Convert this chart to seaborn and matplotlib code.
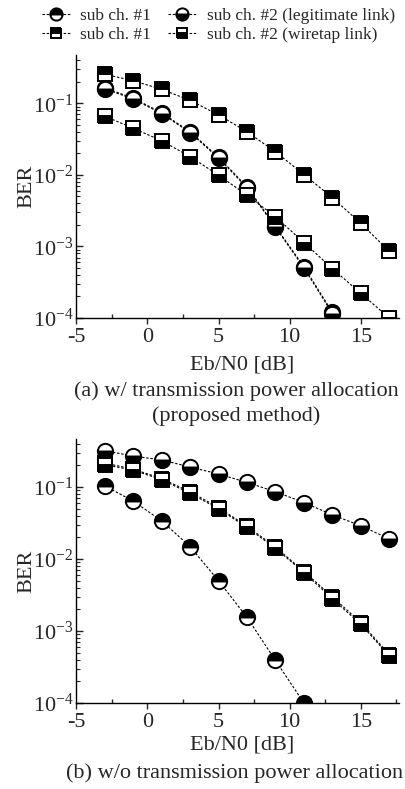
import numpy as np
import pandas as pd
import matplotlib
matplotlib.use('Agg')
import matplotlib.pyplot as plt
import seaborn as sns
from matplotlib.ticker import LogLocator, FixedLocator, NullFormatter

sns.set_style('white')
plt.rcParams['font.family'] = ['Liberation Serif', 'DejaVu Serif']
plt.rcParams['mathtext.fontset'] = 'custom'
plt.rcParams['mathtext.rm'] = 'Liberation Serif'
plt.rcParams['mathtext.it'] = 'Liberation Serif:italic'
plt.rcParams['axes.unicode_minus'] = False

# --- datos ---
snr_circ_a = [-3, -1, 1, 3, 5, 7, 9, 11, 13]
snr_sq = [-3, -1, 1, 3, 5, 7, 9, 11, 13, 15, 17]
snr_circ_b1 = [-3, -1, 1, 3, 5, 7, 9, 11]

# (a) con asignacion de potencia
a_leg_ch1 = [0.165, 0.118, 0.074, 0.040, 0.0177, 0.0068, 0.0019, 5.2e-4, 1.2e-4]
a_leg_ch2 = [0.160, 0.115, 0.072, 0.039, 0.0172, 0.0066, 0.00185, 5.0e-4, 1.15e-4]
a_wt_ch1 = [0.255, 0.207, 0.157, 0.110, 0.069, 0.040, 0.021, 0.0101, 0.0048, 0.0021, 8.5e-4]
a_wt_ch2 = [0.066, 0.045, 0.030, 0.018, 0.0099, 0.0052, 0.0026, 0.00113, 4.9e-4, 2.2e-4, 1.0e-4]

# (b) sin asignacion de potencia
b_leg_ch1 = [0.104, 0.064, 0.034, 0.0149, 0.0050, 0.00155, 3.9e-4, 1.0e-4]
b_leg_ch2 = [0.32, 0.27, 0.238, 0.19, 0.152, 0.116, 0.086, 0.061, 0.041, 0.029, 0.019]
b_wt_ch1 = [0.215, 0.178, 0.131, 0.086, 0.052, 0.0285, 0.0147, 0.0067, 0.0030, 0.0013, 4.7e-4]
b_wt_ch2 = [0.205, 0.172, 0.127, 0.082, 0.050, 0.0275, 0.0141, 0.0065, 0.0028, 0.00124, 4.5e-4]

labels = ['sub ch. #1', 'sub ch. #1', 'sub ch. #2 (legitimate link)', 'sub ch. #2 (wiretap link)']

fig = plt.figure(figsize=(4.05, 7.89), dpi=100)
ax_a = fig.add_axes([0.188, 0.597, 0.798, 0.333])
ax_b = fig.add_axes([0.188, 0.109, 0.798, 0.335])

ls = (0, (2.2, 1.6))


def dibujar(ax, x, y, marker, fill, ms, label):
    sns.lineplot(x=x, y=y, ax=ax, color='k', linestyle=ls, linewidth=0.8,
                 marker=marker, markersize=ms, fillstyle=fill,
                 markerfacecolor='k', markerfacecoloralt='w',
                 markeredgecolor='k', markeredgewidth=1.4,
                 label=label, legend=False, clip_on=True)


for ax, series in [
    (ax_a, [(snr_circ_a, a_leg_ch1, 'o', 'top', 11),
            (snr_sq, a_wt_ch1, 's', 'top', 9.5),
            (snr_circ_a, a_leg_ch2, 'o', 'bottom', 11),
            (snr_sq, a_wt_ch2, 's', 'bottom', 9.5)]),
    (ax_b, [(snr_circ_b1, b_leg_ch1, 'o', 'top', 11),
            (snr_sq, b_wt_ch1, 's', 'top', 9.5),
            (snr_sq, b_leg_ch2, 'o', 'bottom', 11),
            (snr_sq, b_wt_ch2, 's', 'bottom', 9.5)]),
]:
    for (x, y, m, f, ms), lab in zip(series, labels):
        dibujar(ax, x, y, m, f, ms, lab)
    ax.set_yscale('log')
    ax.set_ylim(1e-4, 0.47)
    ax.set_xlim(-5, 17.7)
    ax.xaxis.set_major_locator(FixedLocator([-5, 0, 5, 10, 15]))
    ax.xaxis.set_minor_locator(FixedLocator([-2.5, 2.5, 7.5, 12.5, 17.5]))
    ax.yaxis.set_major_locator(FixedLocator([1e-4, 1e-3, 1e-2, 1e-1]))
    ax.yaxis.set_minor_locator(LogLocator(base=10, subs=np.arange(2, 10)))
    ax.yaxis.set_minor_formatter(NullFormatter())
    ax.set_yticklabels([r'$10^{-4}$', r'$10^{-3}$', r'$10^{-2}$', r'$10^{-1}$'])
    ax.tick_params(axis='x', which='major', direction='out', length=4, width=1, labelsize=16, pad=3)
    ax.tick_params(axis='x', which='minor', direction='in', length=3, width=1)
    ax.tick_params(axis='y', which='major', direction='in', length=5, width=1, labelsize=16, pad=2)
    ax.tick_params(axis='y', which='minor', direction='in', length=3, width=0.8)
    ax.tick_params(bottom=True, left=True, which='both')
    for s in ['top', 'right']:
        ax.spines[s].set_visible(False)
    for s in ['left', 'bottom']:
        ax.spines[s].set_color('k')
        ax.spines[s].set_linewidth(1)
    ax.set_ylabel('BER', fontsize=16, labelpad=-3)
    ax.set_xlabel('Eb/N0 [dB]', fontsize=16, labelpad=3, x=0.515)

ax_a.xaxis.labelpad = 6

fig.text(0.583, 0.504, '(a) w/ transmission power allocation', ha='center', va='center', fontsize=16)
fig.text(0.583, 0.472, '(proposed method)', ha='center', va='center', fontsize=16)
fig.text(0.579, 0.0205, '(b) w/o transmission power allocation', ha='center', va='center', fontsize=16)

handles, labs = ax_a.get_legend_handles_labels()
fig.legend(handles, labs, ncol=2, loc='upper left', bbox_to_anchor=(0.065, 1.01),
           frameon=False, fontsize=12.5, handlelength=1.6, handletextpad=0.6,
           columnspacing=1.0, labelspacing=0.15, markerscale=0.8)

fig.savefig('out.png', dpi=100)
